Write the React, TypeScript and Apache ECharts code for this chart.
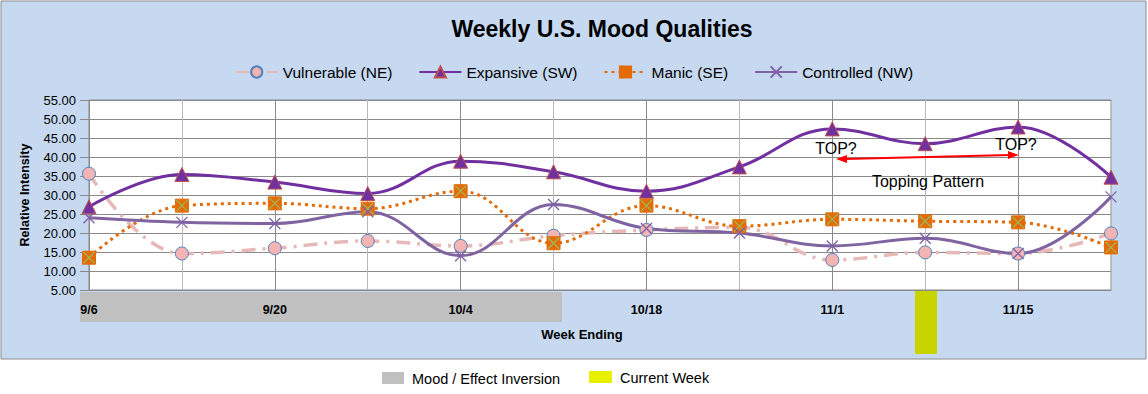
import React, { useEffect, useRef } from "react";
import * as echarts from "echarts";

const categories = ["9/6", "9/13", "9/20", "9/27", "10/4", "10/11", "10/18", "10/25", "11/1", "11/8", "11/15", "11/22"];
const vulnerable = [35.6, 14.6, 16.0, 17.9, 16.6, 19.3, 20.8, 21.5, 12.9, 14.9, 14.6, 19.9];
const expansive = [26.9, 35.4, 33.4, 30.4, 38.9, 36.1, 31.0, 37.4, 47.4, 43.5, 47.9, 34.7];
const manic = [13.5, 27.2, 27.8, 26.4, 31.0, 17.3, 27.2, 21.8, 23.6, 23.1, 22.8, 16.2];
const controlled = [24.0, 22.8, 22.5, 25.6, 14.0, 27.5, 21.2, 20.0, 16.6, 18.6, 14.6, 29.5];
const seriesNames = ["Vulnerable (NE)", "Expansive (SW)", "Manic (SE)", "Controlled (NW)"];
const yMin = 5;
const yMax = 55;
const yStep = 5;

const FONT = "'Liberation Sans', Arial, sans-serif";
const XPATH = "path://M0,0L10,10M10,0L0,10";

export default function App() {
  const ref = useRef<HTMLDivElement>(null);
  useEffect(() => {
    if (!ref.current) return;
    const chart = echarts.init(ref.current, undefined, { renderer: "svg" });
    chart.setOption({
      animation: false,
      backgroundColor: "#ffffff",
      title: {
        text: "Weekly U.S. Mood Qualities",
        left: 597,
        textAlign: "center",
        top: 12,
        textStyle: { fontFamily: FONT, fontWeight: "bold", fontSize: 23, color: "#000" },
      },
      legend: {
        data: seriesNames,
        top: 59,
        left: "center",
        itemWidth: 42,
        itemHeight: 14,
        itemGap: 26,
        textStyle: { fontFamily: FONT, fontSize: 15.5, color: "#000" },
      },
      grid: {
        left: 89,
        right: 37,
        top: 100,
        bottom: 104,
        show: true,
        backgroundColor: "#ffffff",
        borderColor: "#888888",
        borderWidth: 1,
      },
      xAxis: {
        type: "category",
        data: categories,
        boundaryGap: false,
        axisLine: { show: true, lineStyle: { color: "#888888" } },
        axisTick: { show: false },
        axisLabel: { interval: 1, margin: 13, fontFamily: FONT, fontWeight: "bold", fontSize: 12.5, color: "#000" },
        splitLine: { show: true, interval: 0, lineStyle: { color: ["#8a8a8a", "#b8b8b8"], width: 1 } },
      },
      yAxis: {
        type: "value",
        min: yMin,
        max: yMax,
        interval: yStep,
        name: "Relative Intensity",
        nameLocation: "middle",
        nameGap: 58,
        nameTextStyle: { fontFamily: FONT, fontWeight: "bold", fontSize: 12.5, color: "#000" },
        axisLine: { show: false },
        axisTick: { show: true, length: 9, lineStyle: { color: "#888888" } },
        axisLabel: {
          margin: 13,
          fontFamily: FONT,
          fontSize: 13,
          color: "#000",
          formatter: (v: number) => v.toFixed(2),
        },
        splitLine: { show: true, lineStyle: { color: "#8a8a8a", width: 1 } },
      },
      graphic: [
        {
          type: "rect",
          z: -20,
          shape: { x: 1, y: 1, width: 1145, height: 358 },
          style: { fill: "#c6d9f1", stroke: "#8c8c8c", lineWidth: 1 },
        },
        {
          type: "rect",
          z: -10,
          shape: { x: 80, y: 292, width: 482, height: 30 },
          style: { fill: "#c0c0c0" },
        },
        {
          type: "rect",
          z: -10,
          shape: { x: 915, y: 290, width: 22, height: 64 },
          style: { fill: "#c8d400" },
        },
        {
          type: "text",
          x: 582,
          y: 334,
          style: { text: "Week Ending", fontFamily: FONT, fontWeight: "bold", fontSize: 13, fill: "#000", textAlign: "center", textVerticalAlign: "middle" },
        },
        {
          type: "rect",
          shape: { x: 382, y: 372, width: 22, height: 12 },
          style: { fill: "#c0c0c0" },
        },
        {
          type: "text",
          x: 412,
          y: 379,
          style: { text: "Mood / Effect Inversion", fontFamily: FONT, fontSize: 14.5, fill: "#000", textVerticalAlign: "middle" },
        },
        {
          type: "rect",
          shape: { x: 589, y: 371, width: 23, height: 12 },
          style: { fill: "#e8f000" },
        },
        {
          type: "text",
          x: 620,
          y: 378,
          style: { text: "Current Week", fontFamily: FONT, fontSize: 14.5, fill: "#000", textVerticalAlign: "middle" },
        },
        {
          type: "text",
          z: 10,
          x: 836,
          y: 148,
          style: { text: "TOP?", fontFamily: FONT, fontSize: 16, fill: "#000", textAlign: "center", textVerticalAlign: "middle" },
        },
        {
          type: "text",
          z: 10,
          x: 1016,
          y: 144,
          style: { text: "TOP?", fontFamily: FONT, fontSize: 16, fill: "#000", textAlign: "center", textVerticalAlign: "middle" },
        },
        {
          type: "text",
          z: 10,
          x: 928,
          y: 181,
          style: { text: "Topping Pattern", fontFamily: FONT, fontSize: 16, fill: "#000", textAlign: "center", textVerticalAlign: "middle" },
        },
        {
          type: "line",
          z: 10,
          shape: { x1: 844, y1: 159, x2: 1011, y2: 155 },
          style: { stroke: "#ff0000", lineWidth: 2 },
        },
        {
          type: "polygon",
          z: 10,
          shape: { points: [[836, 159], [847, 155], [847, 163]] },
          style: { fill: "#ff0000" },
        },
        {
          type: "polygon",
          z: 10,
          shape: { points: [[1019, 155], [1008, 151], [1008, 159]] },
          style: { fill: "#ff0000" },
        },
      ],
      series: [
        {
          name: seriesNames[0],
          type: "line",
          data: vulnerable,
          smooth: 0.4,
          symbol: "circle",
          symbolSize: 13,
          itemStyle: { color: "#f4b4b4", borderColor: "#4f81bd", borderWidth: 1 },
          lineStyle: { color: "#e6b9b8", width: 3.5, type: [14, 7, 3, 7] },
        },
        {
          name: seriesNames[1],
          type: "line",
          data: expansive,
          smooth: 0.4,
          symbol: "triangle",
          symbolSize: 14,
          itemStyle: { color: "#7030a0", borderColor: "#c0504d", borderWidth: 1 },
          lineStyle: { color: "#7030a0", width: 3 },
        },
        {
          name: seriesNames[2],
          type: "line",
          data: manic,
          smooth: 0.4,
          symbol: "rect",
          symbolSize: 13,
          itemStyle: { color: "#e36c09", borderColor: "#e36c09", borderWidth: 1 },
          lineStyle: { color: "#e36c09", width: 3, type: [3, 4] },
        },
        {
          name: "Manic X",
          type: "line",
          data: manic,
          symbol: XPATH,
          symbolSize: 11,
          itemStyle: { color: "transparent", borderColor: "#9bbb59", borderWidth: 1.2 },
          lineStyle: { width: 0, opacity: 0 },
        },
        {
          name: seriesNames[3],
          type: "line",
          data: controlled,
          smooth: 0.4,
          symbol: XPATH,
          symbolSize: 11,
          itemStyle: { color: "transparent", borderColor: "#7f60a8", borderWidth: 1.3 },
          lineStyle: { color: "#8064a2", width: 3 },
        },
      ],
    });
    return () => chart.dispose();
  }, []);
  return <div ref={ref} style={{ position: "fixed", left: 0, top: 0, width: 1148, height: 394 }} />;
}
